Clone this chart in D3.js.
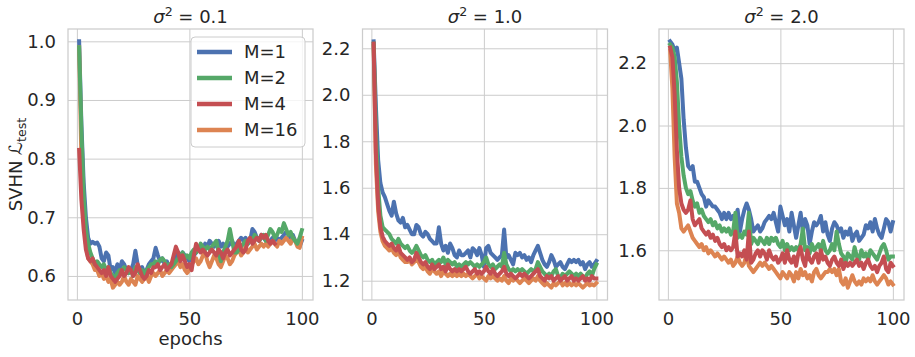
<!DOCTYPE html>
<html>
<head>
<meta charset="utf-8">
<script src="https://cdn.jsdelivr.net/npm/d3@7"></script>
<style>
  body { margin: 0; background: #fff; }
  text { font-family: "DejaVu Sans", sans-serif; fill: #262626; }
</style>
</head>
<body>
<svg width="915" height="357"></svg>
<script>
// legend labels / colours
const seriesNames = ["M=1", "M=2", "M=4", "M=16"];
const colors = { "M=1": "#4c72b0", "M=2": "#55a868", "M=4": "#c44e52", "M=16": "#dd8452" };
const drawOrder = ["M=1", "M=16", "M=2", "M=4"];

const titles = ["0.1", "1.0", "2.0"];
const xTicks = [0, 50, 100];
const yTicks01 = [0.6, 0.7, 0.8, 0.9, 1.0];
const yTicks10 = [1.2, 1.4, 1.6, 1.8, 2.0, 2.2];
const yTicks20 = [1.6, 1.8, 2.0, 2.2];

// sigma^2 = 0.1 (test loss per epoch, epoch 1..)
const s01_M1 = [1.00,0.86,0.76,0.70,0.665,0.655,0.658,0.655,0.657,0.65,0.63,0.625,0.64,0.635,0.61,0.615,0.605,0.62,0.61,0.625,
  0.62,0.61,0.605,0.61,0.62,0.643,0.62,0.61,0.615,0.605,0.61,0.62,0.625,0.63,0.648,0.635,0.625,0.63,0.62,0.625,
  0.615,0.62,0.625,0.63,0.64,0.635,0.64,0.635,0.63,0.625,0.63,0.635,0.64,0.645,0.65,0.645,0.655,0.65,0.66,0.655,
  0.65,0.655,0.66,0.65,0.655,0.645,0.65,0.655,0.66,0.65,0.655,0.66,0.665,0.66,0.665,0.655,0.66,0.68,0.675,0.665,
  0.66,0.67,0.665,0.66,0.655,0.66,0.665,0.66,0.665,0.66,0.665,0.67,0.675,0.67,0.665,0.67,0.66,0.655,0.65,0.66];
const s01_M2 = [0.99,0.85,0.74,0.68,0.655,0.64,0.63,0.62,0.625,0.62,0.615,0.62,0.61,0.615,0.605,0.60,0.598,0.605,0.61,0.61,
  0.615,0.61,0.605,0.61,0.60,0.615,0.61,0.605,0.61,0.60,0.61,0.615,0.62,0.62,0.625,0.62,0.628,0.63,0.625,0.615,
  0.62,0.615,0.62,0.625,0.63,0.635,0.64,0.63,0.635,0.63,0.64,0.645,0.64,0.645,0.655,0.65,0.645,0.65,0.645,0.65,
  0.655,0.66,0.64,0.625,0.64,0.65,0.66,0.68,0.66,0.64,0.64,0.645,0.65,0.655,0.66,0.655,0.665,0.66,0.67,0.665,
  0.66,0.665,0.67,0.66,0.67,0.68,0.675,0.665,0.67,0.68,0.675,0.69,0.68,0.67,0.675,0.665,0.66,0.655,0.665,0.678];
const s01_M4 = [0.815,0.73,0.68,0.645,0.63,0.625,0.63,0.62,0.615,0.61,0.605,0.61,0.60,0.615,0.60,0.595,0.59,0.595,0.60,0.61,
  0.60,0.605,0.615,0.61,0.60,0.605,0.62,0.61,0.60,0.595,0.60,0.61,0.605,0.615,0.615,0.62,0.61,0.615,0.62,0.61,
  0.615,0.62,0.635,0.65,0.64,0.625,0.635,0.625,0.615,0.62,0.61,0.635,0.655,0.645,0.64,0.645,0.64,0.635,0.64,0.645,
  0.64,0.635,0.645,0.64,0.63,0.64,0.645,0.635,0.64,0.645,0.65,0.66,0.645,0.64,0.645,0.66,0.665,0.655,0.66,0.665,
  0.66,0.67,0.665,0.67,0.66,0.655,0.66,0.655];
const s01_M16 = [0.99,0.80,0.70,0.655,0.63,0.625,0.62,0.61,0.61,0.60,0.605,0.595,0.60,0.59,0.595,0.58,0.585,0.59,0.585,0.59,
  0.60,0.59,0.585,0.595,0.59,0.585,0.60,0.595,0.59,0.595,0.60,0.59,0.60,0.605,0.60,0.605,0.61,0.60,0.605,0.61,
  0.605,0.61,0.615,0.62,0.625,0.615,0.62,0.61,0.605,0.61,0.62,0.625,0.63,0.62,0.625,0.635,0.64,0.625,0.615,0.625,
  0.635,0.63,0.62,0.615,0.625,0.635,0.63,0.62,0.625,0.635,0.64,0.645,0.635,0.64,0.65,0.64,0.645,0.65,0.655,0.645,
  0.65,0.655,0.65,0.655,0.65,0.655,0.66,0.655,0.65,0.66,0.655,0.66,0.665,0.66,0.655,0.665,0.66,0.65,0.648,0.665];

// sigma^2 = 1.0
const s10_M1 = [2.23,1.95,1.72,1.62,1.58,1.56,1.53,1.50,1.48,1.54,1.49,1.46,1.45,1.47,1.43,1.44,1.42,1.40,1.40,1.44,
  1.43,1.40,1.39,1.41,1.40,1.38,1.37,1.36,1.36,1.43,1.36,1.33,1.35,1.32,1.36,1.34,1.31,1.30,1.33,1.31,
  1.31,1.32,1.33,1.30,1.34,1.33,1.31,1.34,1.31,1.26,1.34,1.35,1.32,1.31,1.30,1.29,1.30,1.31,1.42,1.30,
  1.31,1.29,1.27,1.32,1.31,1.32,1.30,1.31,1.29,1.30,1.28,1.31,1.33,1.35,1.32,1.29,1.27,1.26,1.28,1.31,
  1.29,1.26,1.27,1.28,1.26,1.25,1.27,1.29,1.28,1.29,1.28,1.29,1.27,1.28,1.25,1.27,1.28,1.26,1.27,1.285];
const s10_M2 = [2.22,1.85,1.60,1.48,1.43,1.42,1.41,1.40,1.38,1.37,1.36,1.38,1.36,1.35,1.34,1.35,1.33,1.32,1.33,1.35,
  1.33,1.31,1.30,1.31,1.29,1.28,1.29,1.27,1.28,1.29,1.28,1.30,1.27,1.29,1.28,1.27,1.28,1.26,1.27,1.26,
  1.27,1.28,1.27,1.28,1.27,1.26,1.27,1.26,1.27,1.28,1.30,1.27,1.26,1.27,1.25,1.26,1.27,1.26,1.32,1.27,
  1.25,1.24,1.25,1.24,1.25,1.24,1.25,1.24,1.23,1.24,1.25,1.24,1.25,1.28,1.26,1.24,1.23,1.22,1.23,1.22,
  1.24,1.25,1.22,1.21,1.23,1.22,1.23,1.24,1.23,1.22,1.23,1.22,1.23,1.22,1.21,1.23,1.24,1.22,1.25,1.27];
const s10_M4 = [2.22,1.75,1.53,1.43,1.39,1.37,1.36,1.35,1.36,1.34,1.33,1.35,1.32,1.31,1.30,1.29,1.30,1.28,1.29,1.32,
  1.30,1.28,1.27,1.28,1.26,1.25,1.27,1.25,1.26,1.27,1.25,1.26,1.24,1.27,1.25,1.24,1.25,1.24,1.25,1.24,
  1.25,1.26,1.24,1.23,1.24,1.25,1.23,1.24,1.23,1.24,1.26,1.24,1.23,1.25,1.23,1.22,1.23,1.24,1.26,1.23,
  1.22,1.23,1.22,1.21,1.22,1.23,1.22,1.23,1.22,1.21,1.22,1.23,1.24,1.25,1.22,1.21,1.20,1.22,1.21,1.22,
  1.20,1.21,1.22,1.20,1.21,1.22,1.20,1.21,1.22,1.20,1.21,1.20,1.21,1.22,1.20,1.21,1.20,1.22,1.21,1.21];
const s10_M16 = [2.21,1.70,1.50,1.41,1.37,1.35,1.34,1.33,1.34,1.32,1.31,1.33,1.30,1.29,1.28,1.28,1.29,1.27,1.28,1.30,
  1.28,1.26,1.25,1.26,1.24,1.23,1.25,1.24,1.23,1.24,1.22,1.24,1.23,1.22,1.23,1.22,1.23,1.22,1.23,1.22,
  1.23,1.22,1.23,1.22,1.21,1.22,1.23,1.21,1.22,1.21,1.20,1.22,1.21,1.22,1.21,1.20,1.21,1.20,1.22,1.20,
  1.19,1.21,1.20,1.21,1.20,1.19,1.20,1.21,1.20,1.19,1.20,1.21,1.20,1.22,1.20,1.19,1.18,1.19,1.18,1.17,
  1.19,1.18,1.19,1.20,1.18,1.19,1.18,1.19,1.18,1.19,1.18,1.19,1.18,1.17,1.18,1.19,1.18,1.185,1.18,1.19];

// sigma^2 = 2.0
const s20_M1 = [2.27,2.26,2.24,2.25,2.20,2.15,2.02,1.93,1.87,1.86,1.87,1.82,1.82,1.80,1.78,1.77,1.74,1.76,1.75,1.74,
  1.74,1.73,1.72,1.70,1.72,1.70,1.72,1.70,1.71,1.69,1.73,1.66,1.70,1.73,1.75,1.73,1.70,1.66,1.67,1.68,
  1.66,1.67,1.69,1.70,1.71,1.70,1.72,1.69,1.66,1.74,1.71,1.68,1.70,1.66,1.72,1.68,1.64,1.68,1.72,1.66,
  1.70,1.68,1.62,1.66,1.69,1.68,1.69,1.71,1.66,1.69,1.65,1.63,1.67,1.69,1.68,1.66,1.67,1.64,1.66,1.65,
  1.67,1.63,1.65,1.66,1.63,1.64,1.65,1.68,1.67,1.69,1.66,1.70,1.67,1.65,1.64,1.67,1.70,1.69,1.66,1.69];
const s20_M2 = [2.26,2.25,2.22,2.14,2.00,1.90,1.84,1.80,1.78,1.79,1.76,1.74,1.75,1.72,1.73,1.71,1.70,1.69,1.70,1.68,
  1.69,1.67,1.68,1.66,1.67,1.66,1.67,1.65,1.66,1.72,1.64,1.65,1.64,1.66,1.65,1.72,1.62,1.64,1.63,1.62,
  1.64,1.63,1.62,1.64,1.62,1.64,1.63,1.64,1.62,1.61,1.63,1.60,1.62,1.60,1.61,1.60,1.61,1.60,1.62,1.67,
  1.60,1.61,1.59,1.62,1.60,1.61,1.62,1.60,1.63,1.60,1.59,1.60,1.62,1.60,1.66,1.62,1.59,1.58,1.56,1.59,
  1.58,1.57,1.61,1.58,1.57,1.60,1.58,1.59,1.57,1.60,1.59,1.58,1.57,1.59,1.61,1.62,1.60,1.57,1.58,1.58];
const s20_M4 = [2.25,2.22,2.10,1.92,1.80,1.75,1.73,1.72,1.73,1.76,1.70,1.68,1.69,1.70,1.67,1.66,1.65,1.66,1.64,1.65,
  1.63,1.64,1.62,1.61,1.62,1.60,1.61,1.60,1.61,1.66,1.58,1.59,1.58,1.60,1.57,1.66,1.56,1.57,1.59,1.60,
  1.58,1.60,1.59,1.57,1.60,1.58,1.57,1.58,1.56,1.57,1.59,1.56,1.60,1.57,1.56,1.58,1.55,1.59,1.61,1.57,
  1.55,1.60,1.57,1.56,1.58,1.59,1.56,1.60,1.57,1.58,1.56,1.55,1.57,1.58,1.56,1.55,1.57,1.54,1.56,1.55,
  1.56,1.55,1.56,1.57,1.55,1.56,1.54,1.56,1.57,1.55,1.54,1.55,1.53,1.55,1.56,1.58,1.54,1.53,1.56,1.55];
const s20_M16 = [2.24,2.12,1.90,1.75,1.72,1.67,1.66,1.67,1.68,1.66,1.64,1.63,1.62,1.61,1.62,1.60,1.61,1.59,1.60,1.59,
  1.58,1.59,1.58,1.57,1.58,1.57,1.56,1.57,1.55,1.56,1.58,1.56,1.55,1.56,1.59,1.55,1.54,1.53,1.54,1.55,
  1.56,1.55,1.56,1.55,1.54,1.55,1.54,1.53,1.52,1.51,1.53,1.52,1.51,1.53,1.52,1.50,1.53,1.51,1.54,1.52,
  1.53,1.51,1.52,1.50,1.53,1.54,1.52,1.51,1.52,1.53,1.53,1.54,1.53,1.54,1.52,1.54,1.50,1.49,1.51,1.48,
  1.50,1.52,1.50,1.49,1.50,1.49,1.51,1.50,1.51,1.50,1.52,1.50,1.49,1.50,1.51,1.52,1.51,1.49,1.50,1.49];

const panels = [
  { title: titles[0], ticks: yTicks01, series: { "M=1": s01_M1, "M=2": s01_M2, "M=4": s01_M4, "M=16": s01_M16 } },
  { title: titles[1], ticks: yTicks10, series: { "M=1": s10_M1, "M=2": s10_M2, "M=4": s10_M4, "M=16": s10_M16 } },
  { title: titles[2], ticks: yTicks20, series: { "M=1": s20_M1, "M=2": s20_M2, "M=4": s20_M4, "M=16": s20_M16 } }
];

const svg = d3.select("svg");
const lefts = [68, 362.5, 659];
const plotTop = 29, w = 245, h = 271;
const fs = 18;

panels.forEach((p, i) => {
  const g = svg.append("g").attr("transform", `translate(${lefts[i]},${plotTop})`);

  const all = Object.values(p.series).flat();
  const [lo, hi] = d3.extent(all);
  const pad = (hi - lo) * 0.05;
  const x = d3.scaleLinear().domain([1 - 4.95, 100 + 4.95]).range([0, w]);
  const y = d3.scaleLinear().domain([lo - pad, hi + pad]).range([h, 0]);

  // grid + tick labels
  const ya = g.append("g")
    .call(d3.axisLeft(y).tickValues(p.ticks).tickSize(-w).tickPadding(12).tickFormat(d3.format(".1f")));
  const xa = g.append("g").attr("transform", `translate(0,${h})`)
    .call(d3.axisBottom(x).tickValues(xTicks).tickSize(-h).tickPadding(12));
  [ya, xa].forEach(a => {
    a.select(".domain").remove();
    a.selectAll("line").attr("stroke", "#cccccc").attr("stroke-width", 1);
    a.selectAll("text").attr("font-size", fs).attr("fill", "#262626")
      .style("font-family", "DejaVu Sans");
  });

  // spines
  g.append("rect").attr("width", w).attr("height", h)
    .attr("fill", "none").attr("stroke", "#cccccc").attr("stroke-width", 1.25);

  const line = d3.line().x((d, k) => x(k + 1)).y(d => y(d));
  drawOrder.forEach(name => {
    g.append("path").datum(p.series[name])
      .attr("d", line)
      .attr("fill", "none")
      .attr("stroke", colors[name])
      .attr("stroke-width", 4)
      .attr("stroke-linejoin", "round")
      .attr("stroke-linecap", "square");
  });

  // title
  const t = svg.append("text")
    .attr("x", lefts[i] + w / 2).attr("y", 23)
    .attr("text-anchor", "middle").attr("font-size", fs);
  t.append("tspan").attr("font-style", "italic").text("σ");
  t.append("tspan").attr("font-size", fs * 0.7).attr("dy", -7).text("2");
  t.append("tspan").attr("dy", 7).text(" = " + p.title);

  if (i === 0) {
    // legend
    const lg = g.append("g").attr("transform", "translate(123,8)");
    lg.append("rect").attr("width", 114).attr("height", 110).attr("rx", 4)
      .attr("fill", "#fff").attr("fill-opacity", 0.8)
      .attr("stroke", "#cccccc").attr("stroke-width", 1);
    seriesNames.forEach((name, k) => {
      const yy = 15 + k * 26;
      lg.append("line").attr("x1", 6).attr("x2", 41).attr("y1", yy).attr("y2", yy)
        .attr("stroke", colors[name]).attr("stroke-width", 4.5);
      lg.append("text").attr("x", 53).attr("y", yy).attr("dy", "0.35em")
        .attr("font-size", fs).text(name);
    });

    // axis labels
    svg.append("text").attr("x", lefts[0] + w / 2).attr("y", 345)
      .attr("text-anchor", "middle").attr("font-size", fs).text("epochs");
    const yl = svg.append("text")
      .attr("transform", `translate(22,${plotTop + h / 2}) rotate(-90)`)
      .attr("text-anchor", "middle").attr("font-size", fs);
    yl.append("tspan").text("SVHN ");
    yl.append("tspan").text("ℒ");
    yl.append("tspan").attr("font-size", fs * 0.7).attr("dy", 4).text("test");
  }
});
</script>
</body>
</html>
